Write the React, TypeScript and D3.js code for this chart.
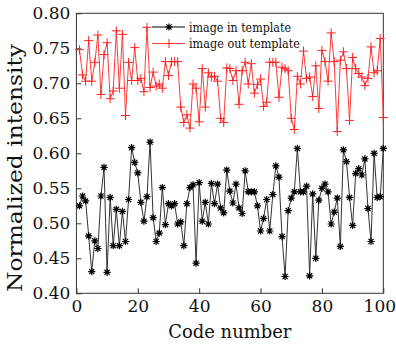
import { useEffect, useRef } from "react";
import * as d3 from "d3";

const width = 396;
const height = 344;

const margin = { top: 13.3, right: 12.7, bottom: 50.7, left: 76.4 };

// intensity of each code (code number 1..100)
const inTemplate = [
  0.525, 0.539, 0.532, 0.482, 0.431, 0.475, 0.464, 0.539, 0.58, 0.43,
  0.537, 0.468, 0.52, 0.468, 0.517, 0.474, 0.534, 0.608, 0.587, 0.572,
  0.53, 0.503, 0.538, 0.616, 0.508, 0.474, 0.486, 0.551, 0.498, 0.528,
  0.525, 0.528, 0.499, 0.502, 0.468, 0.528, 0.551, 0.555, 0.443, 0.558,
  0.503, 0.53, 0.499, 0.557, 0.528, 0.556, 0.522, 0.515, 0.576, 0.546,
  0.529, 0.556, 0.522, 0.514, 0.575, 0.545, 0.545, 0.545, 0.525, 0.489,
  0.507, 0.534, 0.489, 0.541, 0.582, 0.566, 0.481, 0.424, 0.518, 0.536,
  0.545, 0.607, 0.545, 0.545, 0.553, 0.425, 0.542, 0.45, 0.533, 0.55,
  0.556, 0.545, 0.499, 0.516, 0.536, 0.467, 0.605, 0.588, 0.537, 0.497,
  0.571, 0.578, 0.569, 0.592, 0.521, 0.474, 0.6, 0.537, 0.538, 0.607,
];

const outTemplate = [
  0.748, 0.712, 0.703, 0.761, 0.703, 0.73, 0.769, 0.684, 0.741, 0.758,
  0.678, 0.689, 0.775, 0.693, 0.77, 0.654, 0.73, 0.704, 0.751, 0.704,
  0.707, 0.688, 0.78, 0.694, 0.716, 0.696, 0.699, 0.693, 0.731, 0.711,
  0.731, 0.731, 0.731, 0.666, 0.644, 0.655, 0.636, 0.699, 0.693, 0.645,
  0.721, 0.666, 0.715, 0.709, 0.71, 0.703, 0.65, 0.644, 0.722, 0.721,
  0.704, 0.718, 0.67, 0.718, 0.73, 0.699, 0.728, 0.686, 0.698, 0.706,
  0.667, 0.673, 0.73, 0.73, 0.73, 0.68, 0.723, 0.721, 0.718, 0.65,
  0.634, 0.71, 0.699, 0.746, 0.707, 0.709, 0.681, 0.725, 0.664, 0.747,
  0.731, 0.703, 0.772, 0.731, 0.631, 0.733, 0.745, 0.721, 0.647, 0.737,
  0.721, 0.714, 0.709, 0.697, 0.707, 0.752, 0.715, 0.718, 0.764, 0.651,
];

const xTicks = [0, 20, 40, 60, 80, 100];
const yTicks = [0.4, 0.45, 0.5, 0.55, 0.6, 0.65, 0.7, 0.75, 0.8];

const seriesLabels = ["image in template", "image out template"];
const labelWidths = [102, 111];

const font = "'DejaVu Serif', serif";

type Pt = { code: number; value: number };

const starPath = (r: number) => {
  const k = r * 0.72;
  return `M${-r},0H${r}M0,${-r}V${r}M${-k},${-k}L${k},${k}M${-k},${k}L${k},${-k}`;
};
const plusPath = (r: number) => `M${-r},0H${r}M0,${-r}V${r}`;

export default function App() {
  const svgRef = useRef<SVGSVGElement | null>(null);

  useEffect(() => {
    if (!svgRef.current) return;
    const svg = d3.select(svgRef.current);
    svg.selectAll("*").remove();

    const x = d3
      .scaleLinear()
      .domain([0, 100])
      .range([margin.left, width - margin.right]);
    const y = d3
      .scaleLinear()
      .domain([0.4, 0.8])
      .range([height - margin.bottom, margin.top]);

    const toPts = (arr: number[]): Pt[] =>
      arr.map((value, i) => ({ code: i + 1, value }));

    const line = d3
      .line<Pt>()
      .x((d) => x(d.code))
      .y((d) => y(d.value));

    // frame
    svg
      .append("rect")
      .attr("x", margin.left)
      .attr("y", margin.top)
      .attr("width", width - margin.left - margin.right)
      .attr("height", height - margin.top - margin.bottom)
      .attr("fill", "none")
      .attr("stroke", "#333")
      .attr("stroke-width", 1);

    // axes (ticks point inward)
    const xAxis = svg
      .append("g")
      .attr("transform", `translate(0,${height - margin.bottom})`)
      .call(
        d3
          .axisBottom(x)
          .tickValues(xTicks)
          .tickSize(-5)
          .tickPadding(7)
          .tickFormat(d3.format("d")),
      );
    const yAxis = svg
      .append("g")
      .attr("transform", `translate(${margin.left},0)`)
      .call(
        d3
          .axisLeft(y)
          .tickValues(yTicks)
          .tickSize(-5)
          .tickPadding(6)
          .tickFormat(d3.format(".2f")),
      );

    [xAxis, yAxis].forEach((g) => {
      g.select(".domain").remove();
      g.selectAll("line").attr("stroke", "#333");
      g.selectAll("text")
        .attr("fill", "#111")
        .style("font-family", font)
        .style("font-size", "17px");
    });
    // keep the last x label inside the window
    xAxis
      .selectAll<SVGTextElement, number>("text")
      .filter((d) => d === 100)
      .attr("dx", -4);

    const inPts = toPts(inTemplate);
    const outPts = toPts(outTemplate);

    // out of template (red, plus markers)
    svg
      .append("path")
      .datum(outPts)
      .attr("d", line)
      .attr("fill", "none")
      .attr("stroke", "#ff3a3a")
      .attr("stroke-width", 1);
    svg
      .append("g")
      .selectAll("path")
      .data(outPts)
      .join("path")
      .attr("transform", (d) => `translate(${x(d.code)},${y(d.value)})`)
      .attr("d", plusPath(4.5))
      .attr("stroke", "#ff2020")
      .attr("stroke-width", 1);

    // in template (black, star markers)
    svg
      .append("path")
      .datum(inPts)
      .attr("d", line)
      .attr("fill", "none")
      .attr("stroke", "#333")
      .attr("stroke-width", 1);
    svg
      .append("g")
      .selectAll("path")
      .data(inPts)
      .join("path")
      .attr("transform", (d) => `translate(${x(d.code)},${y(d.value)})`)
      .attr("d", starPath(3.6))
      .attr("stroke", "#000")
      .attr("stroke-width", 1.2);

    // legend
    const legend = svg.append("g").attr("transform", "translate(152,27)");
    const items = legend
      .selectAll("g")
      .data(seriesLabels)
      .join("g")
      .attr("transform", (_, i) => `translate(0,${i * 16.5})`);
    items
      .append("line")
      .attr("x1", 0)
      .attr("x2", 33)
      .attr("stroke", (_, i) => (i === 0 ? "#000" : "#ff3a3a"))
      .attr("stroke-width", 1);
    items
      .append("path")
      .attr("transform", "translate(17,0)")
      .attr("d", (_, i) => (i === 0 ? starPath(3.6) : plusPath(4.5)))
      .attr("stroke", (_, i) => (i === 0 ? "#000" : "#ff2020"))
      .attr("stroke-width", (_, i) => (i === 0 ? 1.2 : 1));
    items
      .append("text")
      .attr("x", 37)
      .attr("dy", "0.35em")
      .attr("fill", "#111")
      .style("font-family", font)
      .style("font-size", "13.5px")
      .attr("textLength", (_, i) => labelWidths[i])
      .attr("lengthAdjust", "spacingAndGlyphs")
      .text((d) => d);

    // axis titles
    svg
      .append("text")
      .attr("x", (margin.left + width - margin.right) / 2)
      .attr("y", 338)
      .attr("text-anchor", "middle")
      .attr("fill", "#111")
      .style("font-family", font)
      .style("font-size", "19px")
      .attr("textLength", 123)
      .attr("lengthAdjust", "spacingAndGlyphs")
      .text("Code number");

    svg
      .append("text")
      .attr("transform", "translate(22,168) rotate(-90)")
      .attr("text-anchor", "middle")
      .attr("fill", "#111")
      .style("font-family", font)
      .style("font-size", "21px")
      .attr("textLength", 248)
      .attr("lengthAdjust", "spacingAndGlyphs")
      .text("Normalized intensity");
  }, []);

  return (
    <svg
      ref={svgRef}
      width={width}
      height={height}
      viewBox={`0 0 ${width} ${height}`}
      style={{ position: "absolute", left: 0, top: 0, background: "#fff" }}
    />
  );
}
